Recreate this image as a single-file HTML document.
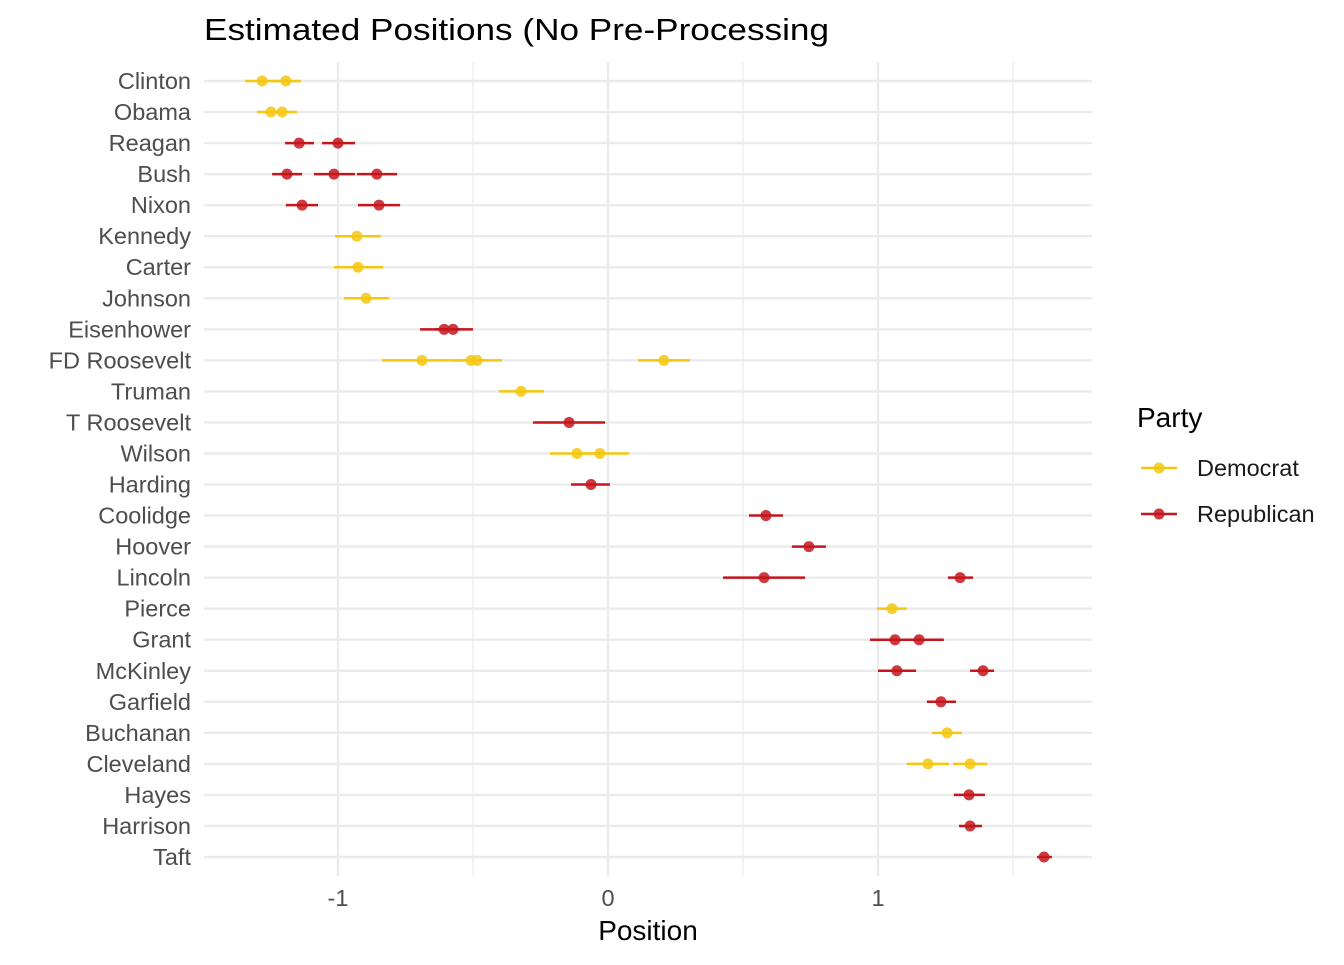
<!DOCTYPE html>
<html><head><meta charset="utf-8"><style>
body{margin:0;background:#fff;width:1344px;height:960px;overflow:hidden}
svg text{font-family:"Liberation Sans",Arial,sans-serif}
</style></head><body>
<svg id="chart" width="1344" height="960" xmlns="http://www.w3.org/2000/svg">
<text x="204" y="40" font-size="31" textLength="625" lengthAdjust="spacingAndGlyphs" fill="#000">Estimated Positions (No Pre-Processing</text>
<g id="grid"></g><g id="marks"></g><g id="axes"></g>
<text x="648" y="940" font-size="28" text-anchor="middle" fill="#000">Position</text>
<g>
<text x="1137" y="427" font-size="28" fill="#000">Party</text>
<g><line x1="1141" x2="1177" y1="468" y2="468" stroke="#f5c710" stroke-width="2.5"/><circle cx="1159" cy="468" r="5.5" fill="#f5c710" fill-opacity="0.85"/><text x="1197" y="476" font-size="23.5" fill="#1a1a1a">Democrat</text></g>
<g><line x1="1141" x2="1177" y1="514" y2="514" stroke="#c4161c" stroke-width="2.5"/><circle cx="1159" cy="514" r="5.5" fill="#c4161c" fill-opacity="0.85"/><text x="1197" y="522" font-size="23.5" fill="#1a1a1a">Republican</text></g>
</g>
</svg>
<script>
const presidents=["Clinton","Obama","Reagan","Bush","Nixon","Kennedy","Carter","Johnson","Eisenhower","FD Roosevelt","Truman","T Roosevelt","Wilson","Harding","Coolidge","Hoover","Lincoln","Pierce","Grant","McKinley","Garfield","Buchanan","Cleveland","Hayes","Harrison","Taft"];
const estName=["Clinton","Clinton","Obama","Obama","Reagan","Reagan","Bush","Bush","Bush","Nixon","Nixon","Kennedy","Carter","Johnson","Eisenhower","Eisenhower","FD Roosevelt","FD Roosevelt","FD Roosevelt","FD Roosevelt","Truman","T Roosevelt","Wilson","Wilson","Harding","Coolidge","Hoover","Lincoln","Lincoln","Pierce","Grant","Grant","McKinley","McKinley","Garfield","Buchanan","Cleveland","Cleveland","Hayes","Harrison","Taft"];
const estParty=["D","D","D","D","R","R","R","R","R","R","R","D","D","D","R","R","D","D","D","D","D","R","D","D","R","R","R","R","R","D","R","R","R","R","R","D","D","D","R","R","R"];
const estMean=[-1.281,-1.193,-1.248,-1.207,-1.144,-1.0,-1.189,-1.015,-0.856,-1.133,-0.848,-0.93,-0.926,-0.896,-0.607,-0.574,-0.689,-0.507,-0.485,0.207,-0.322,-0.144,-0.115,-0.03,-0.063,0.585,0.744,0.578,1.304,1.052,1.063,1.152,1.07,1.389,1.233,1.256,1.185,1.341,1.337,1.341,1.615];
const estLo=[-1.344,-1.244,-1.3,-1.259,-1.196,-1.059,-1.244,-1.089,-0.93,-1.193,-0.926,-1.011,-1.015,-0.978,-0.696,-0.641,-0.837,-0.578,-0.556,0.111,-0.404,-0.278,-0.215,-0.111,-0.137,0.522,0.681,0.426,1.259,0.996,0.97,1.081,1.0,1.341,1.181,1.2,1.107,1.278,1.281,1.3,1.589];
const estHi=[-1.222,-1.137,-1.196,-1.152,-1.089,-0.937,-1.133,-0.937,-0.781,-1.074,-0.77,-0.841,-0.833,-0.811,-0.548,-0.5,-0.548,-0.437,-0.393,0.304,-0.237,-0.011,-0.022,0.078,0.007,0.648,0.807,0.73,1.352,1.107,1.156,1.244,1.141,1.43,1.289,1.311,1.263,1.404,1.396,1.385,1.644];
const xTicks=[-1,0,1];
const xMinor=[-1.5,-0.5,0.5,1.5];
const colors={D:"#f5c710",R:"#c4161c"};
const X0=204,X1=1092;
const xs=v=>608+v*270;
const ys=i=>81+i*((857-81)/(presidents.length-1));
const NS="http://www.w3.org/2000/svg";
function mk(tag,attrs,parent){const e=document.createElementNS(NS,tag);for(const k in attrs)e.setAttribute(k,attrs[k]);parent.appendChild(e);return e;}
const grid=document.getElementById('grid'),marks=document.getElementById('marks'),axes=document.getElementById('axes');
xMinor.forEach(v=>{const x=xs(v);if(x<X0||x>X1)return;const l=mk('line',{x1:x,x2:x,y1:62,y2:876,stroke:'#ebebeb','stroke-width':1.2},grid);

});
xTicks.forEach(v=>{const x=xs(v);const l=mk('line',{x1:x,x2:x,y1:62,y2:876,stroke:'#ebebeb','stroke-width':2.4},grid);


const t=mk('text',{x:x,y:906,'font-size':23.5,'text-anchor':'middle',fill:'#4d4d4d'},axes);t.textContent=(v<0?'-':'')+Math.abs(v);

});
presidents.forEach((p,i)=>{const y=ys(i);const l=mk('line',{x1:X0,x2:X1,y1:y,y2:y,stroke:'#ebebeb','stroke-width':2.4},grid);


const t=mk('text',{x:191,y:y+8,'font-size':23.5,'text-anchor':'end',fill:'#4d4d4d'},axes);t.textContent=p;

});
estName.forEach((n,k)=>{const y=ys(presidents.indexOf(n));const c=colors[estParty[k]];
const g=mk('g',{},marks);


mk('line',{x1:xs(estLo[k]),x2:xs(estHi[k]),y1:y,y2:y,stroke:c,'stroke-width':2.5},g);
mk('circle',{cx:xs(estMean[k]),cy:y,r:5.5,fill:c,'fill-opacity':0.85},g);});
</script>
</body></html>
